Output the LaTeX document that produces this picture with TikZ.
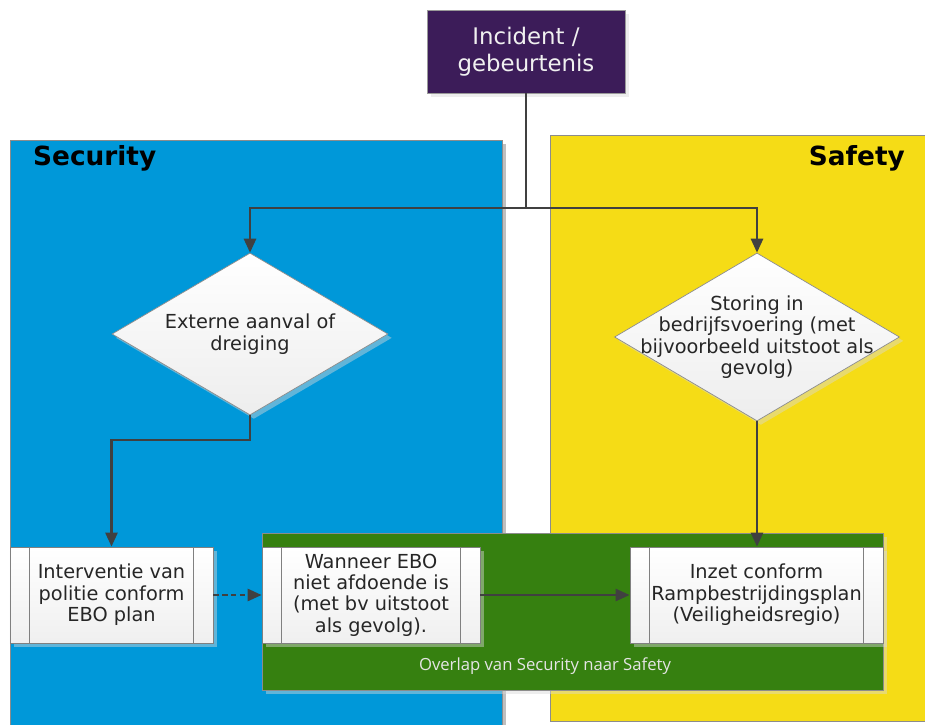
\documentclass[tikz,border=0pt]{standalone}
\usepackage{fontspec}
\setmainfont{DejaVu Sans}
\newfontfamily\overlapfont{Open Sans}
\usetikzlibrary{arrows.meta,shapes.geometric,shadows}

\definecolor{incidentpurple}{HTML}{3C1C59}
\definecolor{securityblue}{HTML}{0098D9}
\definecolor{safetyyellow}{HTML}{F5DC16}
\definecolor{overlapgreen}{HTML}{368010}
\definecolor{flowgray}{HTML}{404040}
\definecolor{textgray}{HTML}{262626}

\tikzset{
  softshadow/.style={drop shadow={shadow xshift=2.2pt, shadow yshift=-2.2pt, fill=white!85!black, opacity=0.45}},
  panel/.style={draw=black!45, line width=0.5pt},
  flow/.style={draw=flowgray, line width=1.2pt, -{Triangle[width=7pt,length=8pt]}},
  trunk/.style={draw=flowgray, line width=1.2pt},
  decision/.style={diamond, draw=black!45, line width=0.4pt, inner sep=0pt,
    top color=white, bottom color=black!7, softshadow},
  process/.style={rectangle, draw=black!50, line width=0.5pt, inner sep=0pt,
    minimum height=1.92cm, align=center, text=textgray,
    font=\fontsize{11}{12.2}\selectfont,
    top color=white, bottom color=black!6, softshadow,
    path picture={
      \draw[black!50, line width=0.5pt]
        ([xshift=0.39cm]path picture bounding box.north west) -- ([xshift=0.39cm]path picture bounding box.south west)
        ([xshift=-0.39cm]path picture bounding box.north east) -- ([xshift=-0.39cm]path picture bounding box.south east);
    }},
  difftext/.style={align=center, text=textgray, font=\fontsize{11}{12.2}\selectfont}
}

\begin{document}
\begin{tikzpicture}
    %%%%% START %%%%%
    \useasboundingbox (0, 0) rectangle (18.5, 14.48);
    \fill[white] (0, 0) rectangle (18.5, 14.48);

    % swimlanes
    \fill[black!25] (0.28, -0.1) rectangle (10.12, 11.6);
    \draw[panel, fill=securityblue] (0.2, -0.2) rectangle (10.04, 11.68);
    \draw[panel, fill=safetyyellow] (11.0, 0.06) rectangle (18.7, 11.78);
    \node[anchor=west, font=\fontsize{15}{18}\bfseries\selectfont] (securitylabel) at (0.54, 11.32) {Security};
    \node[anchor=east, font=\fontsize{15}{18}\bfseries\selectfont] (safetylabel) at (18.22, 11.32) {Safety};

    % overlap area
    \draw[panel, fill=overlapgreen, softshadow] (5.24, 0.68) rectangle (17.66, 3.82);
    \node[text=white!90!black, font=\overlapfont\fontsize{9.5}{11}\selectfont] (overlaplabel) at (10.9, 1.16) {Overlap van Security naar Safety};

    % nodes
    \node[rectangle, fill=incidentpurple, draw=black!40, minimum width=3.96cm, minimum height=1.66cm,
      align=center, text=white!94!black, font=\fontsize{13}{15.5}\selectfont, softshadow]
      (incident) at (10.52, 13.45) {Incident /\\gebeurtenis};

    \node[decision, minimum width=5.52cm, minimum height=3.24cm,
      label={[difftext]center:Externe aanval of\\dreiging}] (externe) at (5.0, 7.8) {};
    \node[decision, minimum width=5.7cm, minimum height=3.36cm,
      label={[difftext]center:Storing in\\bedrijfsvoering (met\\bijvoorbeeld uitstoot als\\gevolg)}] (storing) at (15.14, 7.74) {};

    \node[process, minimum width=4.06cm] (interventie) at (2.23, 2.58) {Interventie van\\politie conform\\EBO plan};
    \node[process, minimum width=4.36cm] (wanneer) at (7.42, 2.58) {Wanneer EBO\\niet afdoende is\\(met bv uitstoot\\als gevolg).};
    \node[process, minimum width=5.06cm] (inzet) at (15.13, 2.58) {Inzet conform\\Rampbestrijdingsplan\\(Veiligheidsregio)};

    % connectors
    \coordinate (split) at (10.52, 10.32);
    \draw[trunk] (incident.south) -- (split);
    \draw[flow] (split) -| (externe.north);
    \draw[flow] (split) -| (storing.north);
    \draw[flow] (externe.south) -- ++(0, -0.5) -| (interventie.north);
    \draw[flow] (storing.south) -- (storing.south |- inzet.north);
    \draw[flow, dash pattern=on 3pt off 2pt] (interventie.east) -- (wanneer.west);
    \draw[flow] (wanneer.east) -- (inzet.west);
    %%%%% END %%%%%
\end{tikzpicture}
\end{document}
